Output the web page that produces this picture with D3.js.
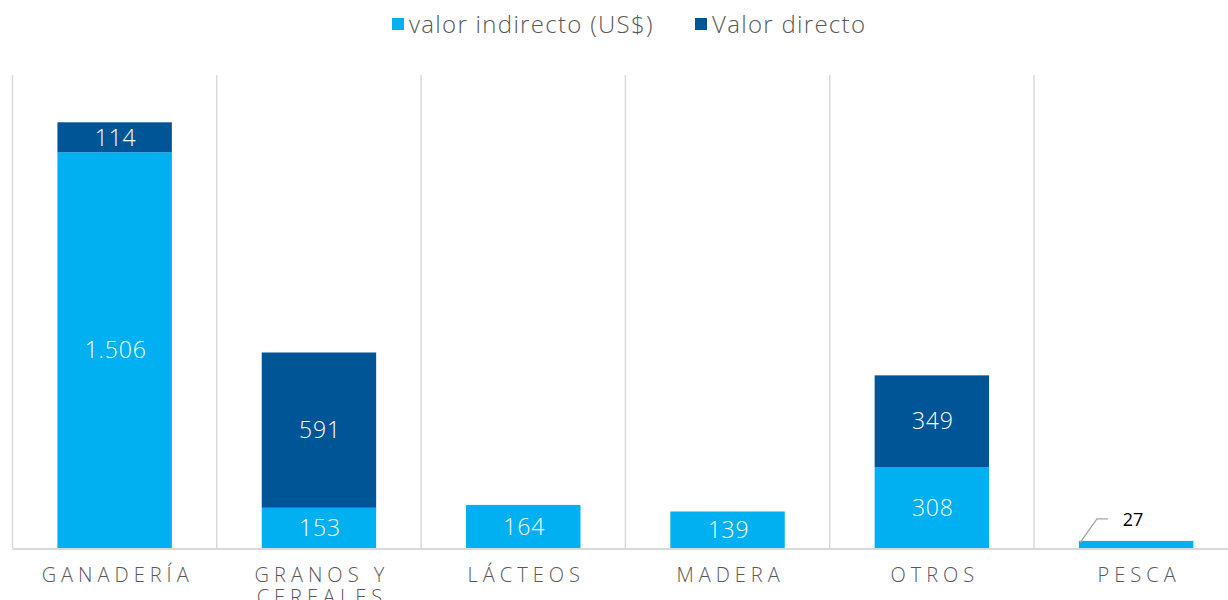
<!DOCTYPE html>
<html>
<head>
<meta charset="utf-8">
<script src="https://cdn.jsdelivr.net/npm/d3@7"></script>
<style>
  body { margin: 0; background: #fff; }
  svg { display: block; font-family: "Open Sans", Lato, sans-serif; }
</style>
</head>
<body>
<svg id="chart" width="1228" height="600"></svg>
<script>
const categories = ["GANADERÍA", "GRANOS Y CEREALES", "LÁCTEOS", "MADERA", "OTROS", "PESCA"];
const indirecto = [1506, 153, 164, 139, 308, 27];
const directo = [114, 591, 0, 0, 349, 0];
const seriesNames = ["valor indirecto (US$)", "Valor directo"];
const yMax = 1800;

const COLORS = { indirecto: "#00b0f0", directo: "#005597", grid: "#d9d9d9", text: "#595959" };

const width = 1228;
const height = 600;
const margin = { top: 75, left: 12.5, bottom: 52 };
const bandW = 204.3;

const svg = d3.select("#chart");

const x = d3.scaleBand()
  .domain(categories)
  .range([margin.left, margin.left + bandW * categories.length])
  .paddingInner(0.44)
  .paddingOuter(0.22);

const y = d3.scaleLinear()
  .domain([0, yMax])
  .range([height - margin.bottom, margin.top]);

// vertical separators between categories
const step = x.step();
const seps = d3.range(categories.length).map(i => x(categories[i]) - x.paddingOuter() * step);
svg.append("g")
  .selectAll("line")
  .data(seps)
  .join("line")
  .attr("x1", d => d).attr("x2", d => d)
  .attr("y1", y(yMax)).attr("y2", y(0))
  .attr("stroke", COLORS.grid)
  .attr("stroke-width", 1.5);

// stacked bars
const rows = categories.map((c, i) => ({ cat: c, indirecto: indirecto[i], directo: directo[i] }));
const stack = d3.stack().keys(["indirecto", "directo"])(rows);

const layers = svg.append("g")
  .selectAll("g")
  .data(stack)
  .join("g")
  .attr("fill", d => COLORS[d.key]);

layers.selectAll("rect")
  .data(d => d.filter(p => p[1] > p[0]))
  .join("rect")
  .attr("x", d => x(d.data.cat))
  .attr("width", x.bandwidth())
  .attr("y", d => y(d[1]))
  .attr("height", d => y(d[0]) - y(d[1]));

// baseline
svg.append("line")
  .attr("x1", margin.left).attr("x2", width)
  .attr("y1", y(0) + 1).attr("y2", y(0) + 1)
  .attr("stroke", COLORS.grid)
  .attr("stroke-width", 2);

// value labels inside bars
const fmt = v => d3.format(",")(v).replace(/,/g, ".");
layers.selectAll("text")
  .data(d => d.filter(p => p[1] - p[0] > 50))
  .join("text")
  .attr("x", d => x(d.data.cat) + x.bandwidth() / 2 + 1)
  .attr("y", d => (y(d[0]) + y(d[1])) / 2)
  .attr("dy", "0.36em")
  .attr("text-anchor", "middle")
  .attr("fill", "#fff")
  .attr("font-size", 23)
  .attr("font-weight", 300)
  .attr("letter-spacing", 0.8)
  .text(d => fmt(d[1] - d[0]));

// small value with leader line (PESCA)
const small = rows.filter(r => r.indirecto + r.directo < 50);
small.forEach(r => {
  const bx = x(r.cat);
  const by = y(r.indirecto);
  svg.append("polyline")
    .attr("points", [[bx + 1, by + 2], [bx + 18, by - 22], [bx + 29, by - 22]].map(p => p.join(",")).join(" "))
    .attr("fill", "none")
    .attr("stroke", "#a6a6a6")
    .attr("stroke-width", 1.3);
  svg.append("text")
    .attr("x", bx + 54)
    .attr("y", by - 15)
    .attr("text-anchor", "middle")
    .attr("font-size", 18)
    .attr("fill", "#000")
    .text(fmt(r.indirecto));
});

// category labels
const labels = svg.append("g")
  .selectAll("text")
  .data(categories)
  .join("text")
  .attr("x", d => x(d) + x.bandwidth() / 2 + 3)
  .attr("y", 582)
  .attr("text-anchor", "middle")
  .attr("fill", COLORS.text)
  .attr("font-size", 20)
  .attr("font-weight", 300)
  .attr("letter-spacing", 5);

labels.each(function(d) {
  const lines = d === "GRANOS Y CEREALES" ? ["GRANOS Y", "CEREALES"] : [d];
  const t = d3.select(this);
  lines.forEach((l, i) => {
    t.append("tspan")
      .attr("x", t.attr("x"))
      .attr("dy", i === 0 ? 0 : 22)
      .text(l);
  });
});

// legend
const legend = svg.append("g").attr("font-size", 24).attr("fill", COLORS.text);
const legendX = [392, 695];
seriesNames.forEach((name, i) => {
  const g = legend.append("g").attr("transform", `translate(${legendX[i]},18)`);
  g.append("rect")
    .attr("width", 12).attr("height", 12)
    .attr("fill", i === 0 ? COLORS.indirecto : COLORS.directo);
  g.append("text")
    .attr("x", 17)
    .attr("y", 15)
    .attr("font-weight", 300)
    .attr("letter-spacing", 1.3)
    .text(name);
});
</script>
</body>
</html>
